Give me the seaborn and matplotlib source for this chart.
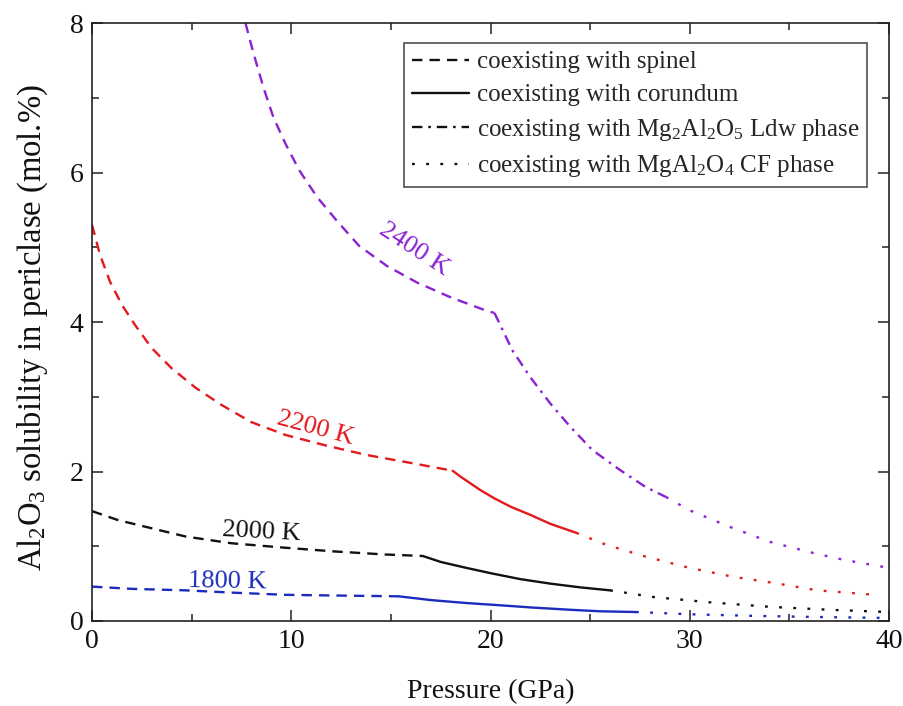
import matplotlib
matplotlib.use("Agg")
import matplotlib.pyplot as plt
from matplotlib.lines import Line2D
from matplotlib.ticker import MultipleLocator
import seaborn as sns

# Al2O3 solubility in periclase (mol.%) versus pressure (GPa), split by the
# coexisting aluminous phase: spinel, corundum, Mg2Al2O5 (Ldw), MgAl2O4 (CF)

# 1800 K
p1800_sp = [0.0, 2.0, 4.7, 7.0, 9.7, 12.5, 15.4]
x1800_sp = [0.46, 0.43, 0.41, 0.38, 0.35, 0.34, 0.33]
p1800_co = [15.4, 17.0, 18.8, 20.5, 22.1, 24.0, 25.5, 27.3]
x1800_co = [0.33, 0.28, 0.24, 0.21, 0.18, 0.15, 0.13, 0.12]
p1800_cf = [27.3, 30.0, 33.0, 36.0, 40.0]
x1800_cf = [0.12, 0.09, 0.07, 0.055, 0.04]

# 2000 K
p2000_sp = [0.0, 1.3, 3.0, 4.7, 7.0, 9.7, 12.2, 14.7, 16.6]
x2000_sp = [1.47, 1.35, 1.24, 1.13, 1.04, 0.98, 0.93, 0.89, 0.87]
p2000_co = [16.6, 17.5, 18.8, 20.0, 21.5, 23.0, 24.5, 26.0]
x2000_co = [0.87, 0.79, 0.71, 0.64, 0.56, 0.50, 0.45, 0.41]
p2000_cf = [26.0, 28.2, 31.0, 34.0, 37.0, 40.0]
x2000_cf = [0.41, 0.32, 0.25, 0.19, 0.15, 0.12]

# 2200 K
p2200_sp = [0.0, 0.4, 0.9, 1.5, 2.16, 3.0, 4.0, 5.2, 6.5, 8.0, 9.7, 11.7,
            13.8, 16.1, 17.7, 18.1]
x2200_sp = [5.30, 4.90, 4.54, 4.23, 3.96, 3.65, 3.38, 3.12, 2.89, 2.66, 2.49,
            2.35, 2.22, 2.11, 2.03, 2.01]
p2200_co = [18.1, 18.5, 19.0, 19.5, 20.2, 21.0, 22.0, 23.0, 24.3]
x2200_co = [2.01, 1.93, 1.84, 1.75, 1.64, 1.53, 1.42, 1.30, 1.18]
p2200_cf = [24.3, 25.8, 27.8, 30.0, 32.2, 34.2, 36.4, 39.3]
x2200_cf = [1.18, 1.02, 0.86, 0.71, 0.59, 0.51, 0.41, 0.35]

# 2400 K
p2400_sp = [7.7, 8.1, 8.6, 9.1, 9.7, 10.4, 11.3, 12.3, 13.4, 14.8, 16.3,
            18.0, 19.6, 20.2]
x2400_sp = [8.0, 7.60, 7.14, 6.74, 6.39, 6.03, 5.67, 5.35, 5.02, 4.75, 4.53,
            4.33, 4.17, 4.12]
p2400_ldw = [20.2, 21.1, 22.0, 23.0, 24.0, 25.1, 26.5, 27.8, 28.8]
x2400_ldw = [4.12, 3.62, 3.26, 2.91, 2.60, 2.29, 2.02, 1.79, 1.66]
p2400_cf = [28.8, 30.0, 32.0, 34.0, 36.2, 37.7, 40.0]
x2400_cf = [1.66, 1.48, 1.26, 1.06, 0.91, 0.82, 0.71]

temps = ["1800 K", "2000 K", "2200 K", "2400 K"]
colors = {"1800 K": "#1c2bbd", "2000 K": "#111111",
          "2200 K": "#e3191c", "2400 K": "#8a22d4"}

line_w = 1.7
styles = {
    "spinel": (0, (4.4, 3.0)),
    "corundum": "-",
    "ldw": (0, (4.4, 2.5, 1.1, 2.5)),
    "cf": (0, (1.2, 4.8)),
}

segments = [
    ("1800 K", "spinel", p1800_sp, x1800_sp),
    ("1800 K", "corundum", p1800_co, x1800_co),
    ("1800 K", "cf", p1800_cf, x1800_cf),
    ("2000 K", "spinel", p2000_sp, x2000_sp),
    ("2000 K", "corundum", p2000_co, x2000_co),
    ("2000 K", "cf", p2000_cf, x2000_cf),
    ("2200 K", "spinel", p2200_sp, x2200_sp),
    ("2200 K", "corundum", p2200_co, x2200_co),
    ("2200 K", "cf", p2200_cf, x2200_cf),
    ("2400 K", "spinel", p2400_sp, x2400_sp),
    ("2400 K", "ldw", p2400_ldw, x2400_ldw),
    ("2400 K", "cf", p2400_cf, x2400_cf),
]

# Curve labels: (pressure, solubility, rotation)
label_pos = {
    "1800 K": (6.8, 0.53, -1),
    "2000 K": (8.5, 1.19, -3),
    "2200 K": (11.2, 2.58, -15),
    "2400 K": (16.15, 4.97, -33),
}

legend_labels = [
    ("spinel", "coexisting with spinel"),
    ("corundum", "coexisting with corundum"),
    ("ldw", "coexisting with Mg$_2$Al$_2$O$_5$ Ldw phase"),
    ("cf", "coexisting with MgAl$_2$O$_4$ CF phase"),
]

sns.set_theme(style="ticks")
plt.rcParams["font.family"] = ["Liberation Serif", "DejaVu Serif"]
plt.rcParams["mathtext.fontset"] = "custom"
plt.rcParams["mathtext.rm"] = "Liberation Serif"
plt.rcParams["mathtext.it"] = "Liberation Serif:italic"
plt.rcParams["mathtext.default"] = "rm"

fig = plt.figure(figsize=(9.04, 7.06), dpi=100)
ax = fig.add_axes([0.1018, 0.1204, 0.8816, 0.847])

for temp, phase, p, x in segments:
    sns.lineplot(x=p, y=x, ax=ax, color=colors[temp], linestyle=styles[phase],
                 linewidth=line_w, sort=False, estimator=None)

for temp in temps:
    px, py, rot = label_pos[temp]
    ax.text(px, py, temp, color=colors[temp], fontsize=19, rotation=rot,
            ha="center", va="center", rotation_mode="anchor")

ax.set_xlim(0, 40)
ax.set_ylim(0, 8)
ax.xaxis.set_major_locator(MultipleLocator(10))
ax.xaxis.set_minor_locator(MultipleLocator(5))
ax.yaxis.set_major_locator(MultipleLocator(2))
ax.yaxis.set_minor_locator(MultipleLocator(1))
ax.tick_params(which="both", direction="in", top=True, right=True,
               colors="#222222", labelcolor="#111111", width=1.1)
ax.tick_params(which="major", length=8, labelsize=20, pad=6)
ax.tick_params(which="minor", length=5)
for sp in ax.spines.values():
    sp.set_color("#222222")
    sp.set_linewidth(1.2)

ax.set_xlabel("Pressure (GPa)", fontsize=20, labelpad=18, color="#111111")
ax.set_ylabel("Al$_2$O$_3$ solubility in periclase (mol.%)", fontsize=23.5,
              color="#111111")
ax.yaxis.set_label_coords(-0.053, 0.49)

handles = [Line2D([], [], color="#111111", linestyle=styles[k],
                  linewidth=line_w) for k, _ in legend_labels]
leg = ax.legend(handles, [t for _, t in legend_labels], loc="upper right",
                bbox_to_anchor=(0.972, 0.966), borderaxespad=0, fontsize=18,
                frameon=True, fancybox=False, handlelength=2.3,
                handletextpad=0.3, borderpad=0.3, labelspacing=0.42)
leg.get_frame().set_edgecolor("#222222")
leg.get_frame().set_linewidth(1.2)

fig.savefig("out.png", dpi=100)
